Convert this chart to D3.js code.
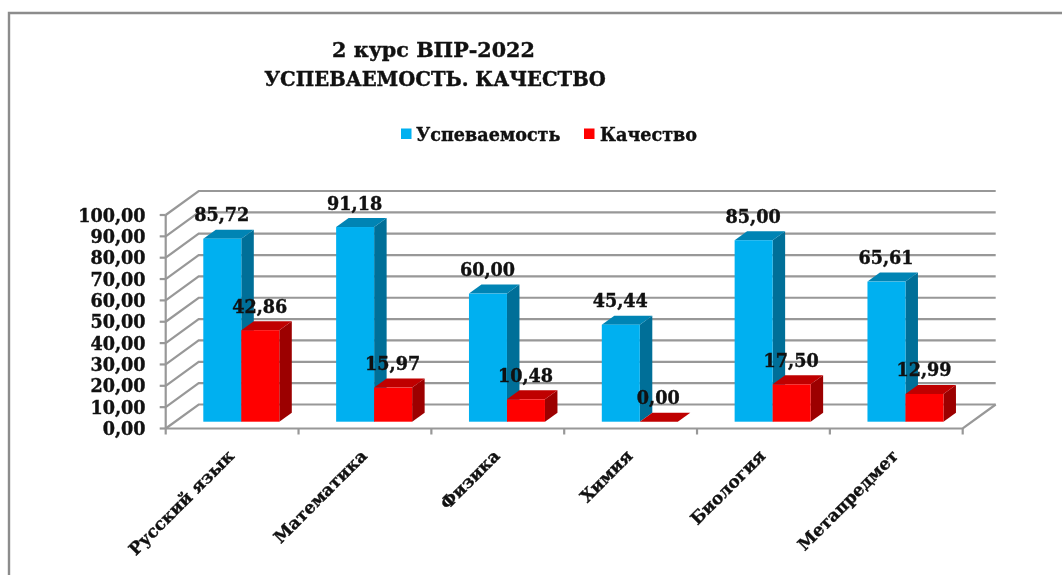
<!DOCTYPE html>
<html><head><meta charset="utf-8">
<script src="https://cdn.jsdelivr.net/npm/d3@7"></script>
<style>
html,body{margin:0;padding:0;background:#fff;overflow:hidden}
svg{filter:blur(0.4px)}
text{font-family:"DejaVu Serif",serif;font-weight:700;fill:#111;stroke:#111;stroke-width:0.4px}
</style></head><body>
<svg id="c" width="1062" height="575"></svg>
<script>
const categories = ["Русский язык","Математика","Физика","Химия","Биология","Метапредмет"];
const uspevaemost = [85.72,91.18,60.00,45.44,85.00,65.61];
const kachestvo = [42.86,15.97,10.48,0.00,17.50,12.99];
const seriesNames = ["Успеваемость","Качество"];
const titleLines = ["2 курс ВПР-2022","УСПЕВАЕМОСТЬ. КАЧЕСТВО"];
const yTicks = [0,10,20,30,40,50,60,70,80,90,100];
const colors = {
  "Успеваемость":{front:"#00b0f0",top:"#0084b4",side:"#006f98"},
  "Качество":{front:"#ff0000",top:"#bf0000",side:"#9c0000"}
};

const svg = d3.select("#c");
const gridCol = "#989898";
// frame (open on the right: it runs off the picture)
svg.append("path").attr("d","M9,575V13H1062").attr("fill","none").attr("stroke","#8c8c8c").attr("stroke-width",2.4);

// title
svg.selectAll(".t").data(titleLines).join("text")
  .attr("x",(d,i)=>i?435:433.5).attr("y",(d,i)=>57+i*29)
  .attr("text-anchor","middle").attr("font-size",(d,i)=>i?19.6:20.7).text(d=>d);

// 3D geometry
const x0=165.7,x1=962.7, depX=33, depY=24;
const y = d3.scaleLinear().domain([0,100]).range([428.5,215]);
const x = d3.scaleBand().domain(categories).range([x0,x1]);
const sub = d3.scaleBand().domain(seriesNames).range([37.6,113.6]);
const barDepX=12.5, barDepY=9, barBase=-6.8;
const fmt = v=>d3.format(".2f")(v).replace(".",",");

const g = svg.append("g");
// side wall + back wall gridlines
const grid=g.append("g").attr("fill","none").attr("stroke",gridCol).attr("stroke-width",2.2);
grid.selectAll(".w").data(yTicks).join("path")
  .attr("d",d=>`M${x0},${y(d)}L${x0+depX},${y(d)-depY}H${x1+depX}`);
grid.append("path").attr("d",`M${x0},${y(0)}H${x1}L${x1+depX},${y(0)-depY}`);
grid.append("path").attr("d",`M${x0},${y(0)}V${y(100)}`);
// ticks
grid.selectAll(".yt").data(yTicks).join("path").attr("d",d=>`M${x0-6},${y(d)}H${x0}`);
grid.selectAll(".xt").data(d3.range(categories.length+1)).join("path")
  .attr("d",i=>`M${x0+i*x.bandwidth()},${y(0)}v6`);

// y labels
g.selectAll(".yl").data(yTicks).join("text")
  .attr("x",145.5).attr("y",d=>y(d)+6.5).attr("text-anchor","end").attr("font-size",17.6)
  .text(d=>fmt(d));

// bars
const h = d=>y(0)-y(d);
const rows = categories.flatMap((c,i)=>[
  {c,s:seriesNames[0],v:uspevaemost[i]},
  {c,s:seriesNames[1],v:kachestvo[i]}
]);
const base = y(0)+barBase;
const bars = g.selectAll(".b").data(rows).join("g");
bars.each(function(d){
  const s=d3.select(this), l=x(d.c)+sub(d.s), w=sub.bandwidth(), t=base-h(d.v), col=colors[d.s];
  s.append("path").attr("fill",col.side)
    .attr("d",`M${l+w},${t}l${barDepX},${-barDepY}V${base-barDepY}l${-barDepX},${barDepY}Z`);
  s.append("path").attr("fill",col.top)
    .attr("d",`M${l},${t}l${barDepX},${-barDepY}h${w}l${-barDepX},${barDepY}Z`);
  s.append("rect").attr("x",l).attr("y",t).attr("width",w).attr("height",h(d.v)).attr("fill",col.front);
});
// data labels
g.selectAll(".dl").data(rows).join("text")
  .attr("x",d=>x(d.c)+sub(d.s)+sub.bandwidth()/2-0.5)
  .attr("y",d=>base-h(d.v)-17.5).attr("text-anchor","middle").attr("font-size",17.6)
  .text(d=>fmt(d.v));

// category labels
g.selectAll(".cl").data(categories).join("text")
  .attr("transform",d=>`translate(${x(d)+x.bandwidth()/2+3},${457}) rotate(-45)`)
  .attr("text-anchor","end").attr("font-size",17).text(d=>d);

// legend
const leg=[{s:seriesNames[0],sx:401,tx:416},{s:seriesNames[1],sx:584,tx:600}];
svg.selectAll(".ls").data(leg).join("rect")
  .attr("x",d=>d.sx).attr("y",128.5).attr("width",10.5).attr("height",10.5).attr("fill",d=>colors[d.s].front);
svg.selectAll(".lt").data(leg).join("text")
  .attr("x",d=>d.tx).attr("y",141).attr("font-size",17.6).text(d=>d.s);
</script></body></html>
